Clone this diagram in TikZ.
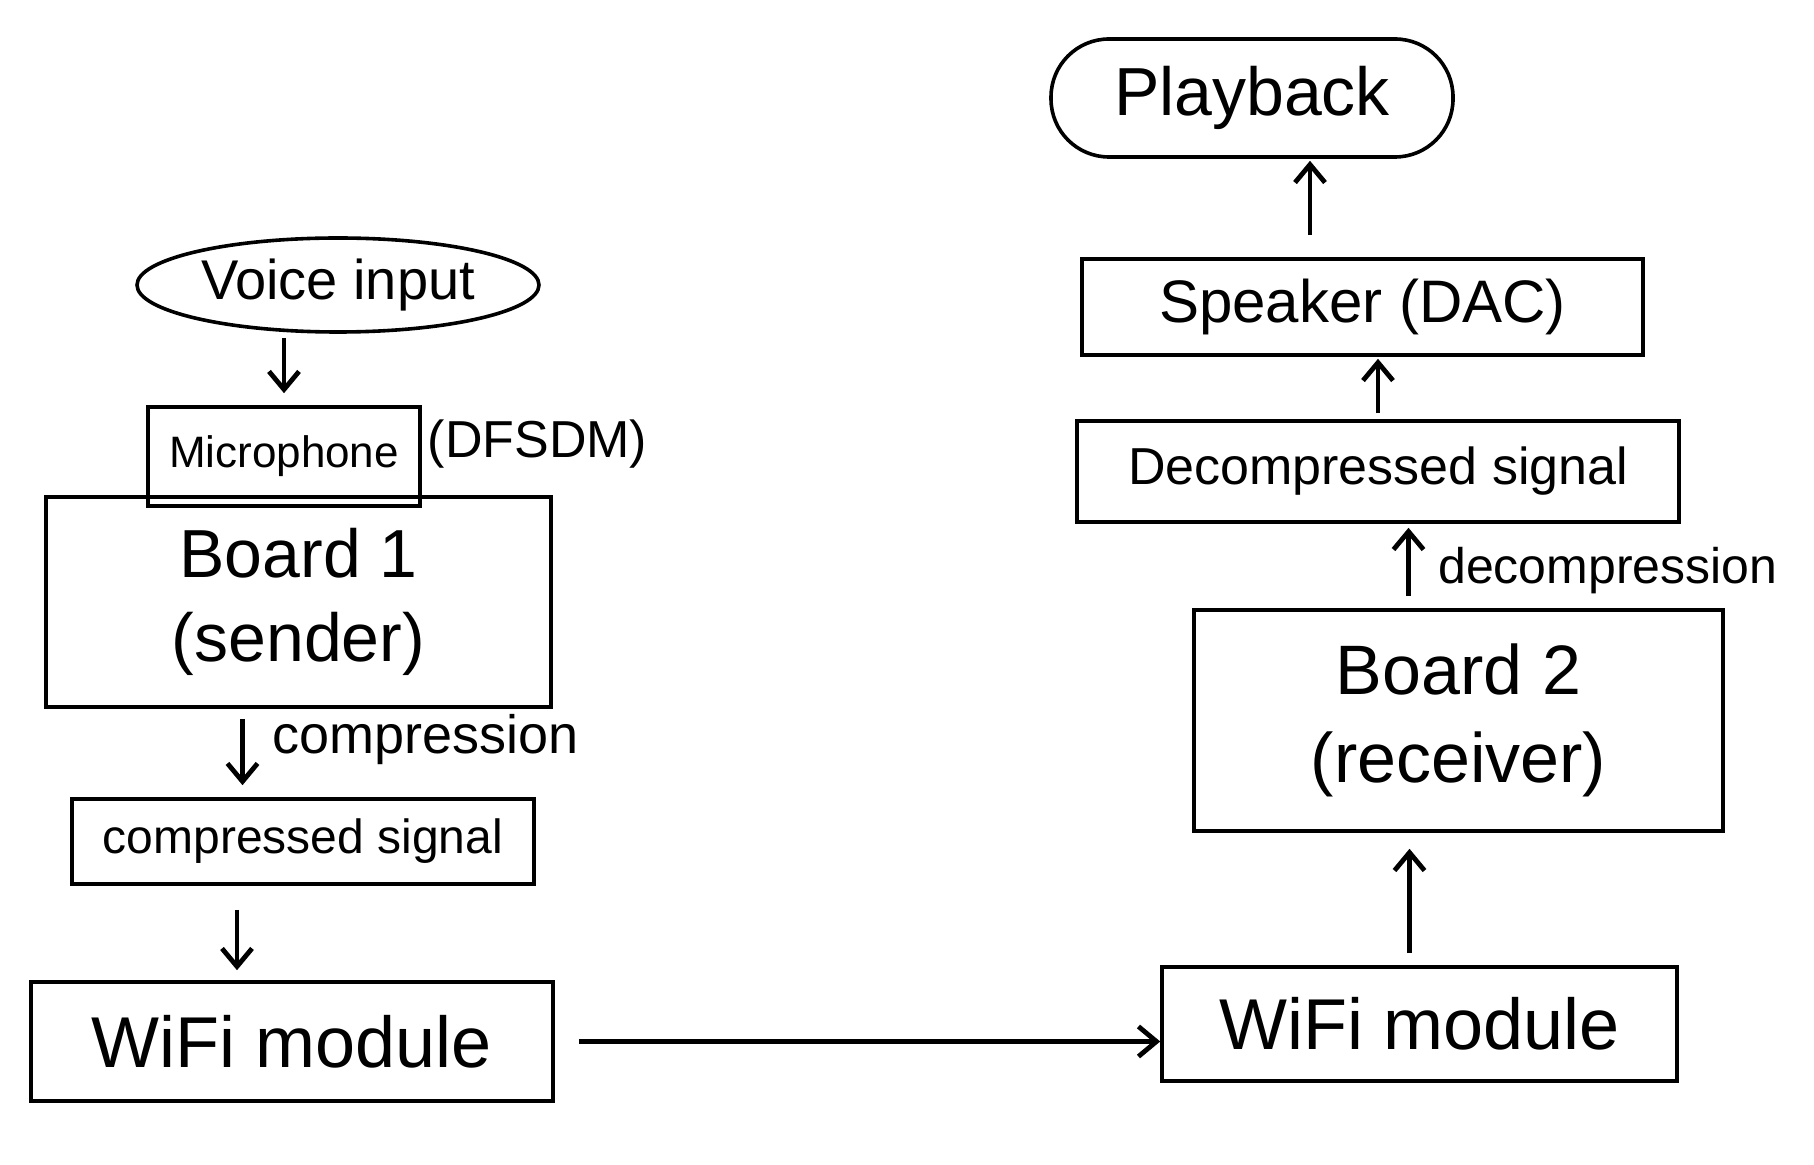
\documentclass[tikz,border=0pt]{standalone}
\usepackage{fontspec}
\setmainfont{Liberation Sans}
\usetikzlibrary{arrows.meta,shapes.geometric}

\begin{document}
\begin{tikzpicture}[x=0.5pt,y=0.5pt,yscale=-1,
  every node/.style={line width=1.8pt, inner sep=0pt, align=center},
  blk/.style={draw, rectangle},
  arr/.style={line width=2.4pt, -{Straight Barb[length=9pt,width=15pt]}},
  lbl/.style={anchor=west}]
\useasboundingbox (0,0) rectangle (1814,1165);

%Shape: Ellipse [id:voice]
\node[draw, ellipse, minimum width=201pt, minimum height=47pt, font=\fontsize{28}{32}\selectfont] (voice) at (338,285) {Voice input};
%Shape: Rectangle [id:mic]
\node[blk, minimum width=136pt, minimum height=49.5pt, font=\fontsize{22}{26}\selectfont] (mic) at (284,456.5) {Microphone};
% Text Node
\node[lbl, font=\fontsize{26}{30}\selectfont] (dfsdm) at (426,444) {(DFSDM)};
%Shape: Rectangle [id:board1]
\node[blk, minimum width=252.5pt, minimum height=105pt, font=\fontsize{34}{42}\selectfont] (board1) at (298.5,602) {Board 1\\(sender)};
%Shape: Rectangle [id:cs]
\node[blk, minimum width=231pt, minimum height=42.5pt, font=\fontsize{24}{28}\selectfont] (cs) at (303,841.5) {compressed signal};
%Shape: Rectangle [id:wifi1]
\node[blk, minimum width=261pt, minimum height=59.5pt, font=\fontsize{36}{40}\selectfont] (wifi1) at (292,1041.5) {WiFi module};

%Shape: Rectangle [id:wifi2]
\node[blk, minimum width=257.5pt, minimum height=57pt, font=\fontsize{36}{40}\selectfont] (wifi2) at (1419.5,1024) {WiFi module};
%Shape: Rectangle [id:board2]
\node[blk, minimum width=264.5pt, minimum height=110.5pt, font=\fontsize{35}{44}\selectfont] (board2) at (1458.5,720.5) {Board 2\\(receiver)};
%Shape: Rectangle [id:decomp]
\node[blk, minimum width=301pt, minimum height=50.5pt, font=\fontsize{26}{30}\selectfont] (decomp) at (1378,471.5) {Decompressed signal};
%Shape: Rectangle [id:speaker]
\node[blk, minimum width=280.5pt, minimum height=48pt, font=\fontsize{30}{34}\selectfont] (speaker) at (1362.5,307) {Speaker (DAC)};
%Shape: Rounded Rect [id:playback]
\node[blk, rounded corners=29pt, minimum width=201pt, minimum height=59pt, font=\fontsize{34}{38}\selectfont] (playback) at (1252,98) {Playback};

%Straight Lines
\draw[arr, shorten <=2pt, shorten >=6pt] (voice.south -| mic.north) -- (mic.north);
\draw[arr, shorten <=5pt, shorten >=6pt] ([xshift=-28pt]board1.south) -- ([xshift=-28pt]board1.south |- cs.north)
  node[lbl, pos=0.35, xshift=14pt] (lcomp) {\fontsize{27}{30}\selectfont compression};
\draw[arr, shorten <=12pt, shorten >=5pt] ([xshift=-33pt]cs.south) -- ([xshift=-33pt]cs.south |- wifi1.north);
\draw[arr, shorten <=12pt, shorten >=0pt] (wifi1.east) -- (wifi1.east -| wifi2.west);
\draw[arr, shorten <=6pt, shorten >=8pt] ([xshift=-5pt]wifi2.north) -- ([xshift=-5pt]wifi2.north |- board2.south);
\draw[arr, shorten <=6pt, shorten >=2pt] ([xshift=-25pt]board2.north) -- ([xshift=-25pt]board2.north |- decomp.south)
  node[lbl, pos=0.45, xshift=14pt] (ldecomp) {\fontsize{25}{28}\selectfont decompression};
\draw[arr, shorten <=3pt, shorten >=1pt] (decomp.north) -- (decomp.north |- speaker.south);
\draw[arr, shorten <=11pt, shorten >=1pt] ([xshift=29pt]playback.south |- speaker.north) -- ([xshift=29pt]playback.south);

\end{tikzpicture}
\end{document}
